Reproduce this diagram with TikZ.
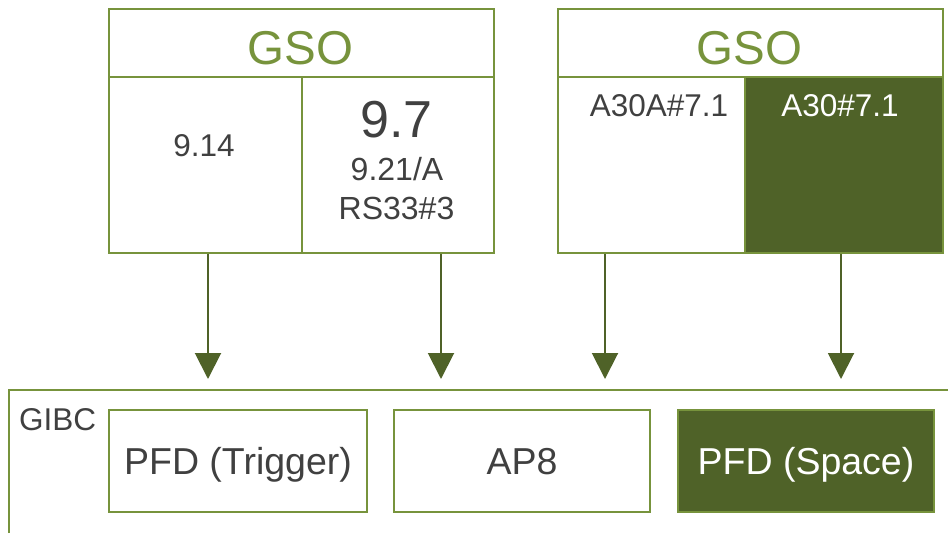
\documentclass[tikz,border=0pt]{standalone}
\usepackage{fontspec}
\setmainfont{Liberation Sans}
\usetikzlibrary{arrows.meta,calc}
\definecolor{gborder}{HTML}{77933C}
\definecolor{gdark}{HTML}{4F6228}
\definecolor{tgray}{HTML}{404040}
\tikzset{
  cell/.style={draw=gborder, line width=2pt, inner sep=0pt, anchor=north west},
  darkcell/.style={cell, fill=gdark},
  lbl/.style={inner sep=0pt, anchor=base, text=tgray},
  arr/.style={draw=gdark, line width=2pt, -{Triangle[width=26pt,length=26pt]}},
}
\begin{document}
\begin{tikzpicture}[x=1pt,y=-1pt]
\useasboundingbox (0,0) rectangle (948,533);
% left GSO
\node[cell, minimum width=385pt, minimum height=68pt] (h1) at (108,8) {};
\node[cell, minimum width=193pt, minimum height=176pt] (c1) at (108,76) {};
\node[cell, minimum width=192pt, minimum height=176pt] (c2) at (301,76) {};
\node[lbl, text=gborder, font=\fontsize{47.5}{47.5}\selectfont] (g1) at (300.5,64) {GSO};
\node[lbl, font=\fontsize{31.5}{31.5}\selectfont] (t914) at (204,156) {9.14};
\node[lbl, font=\fontsize{52}{52}\selectfont] (t97) at (396.5,137) {9.7};
\node[lbl, font=\fontsize{32}{32}\selectfont] (t921) at (397,180) {9.21/A};
\node[lbl, font=\fontsize{32}{32}\selectfont] (trs) at (396.5,219) {RS33\#3};
% right GSO
\node[cell, minimum width=385pt, minimum height=68pt] (h2) at (557,8) {};
\node[cell, minimum width=187pt, minimum height=176pt] (c3) at (557,76) {};
\node[darkcell, minimum width=198pt, minimum height=176pt] (c4) at (744,76) {};
\node[lbl, text=gborder, font=\fontsize{47.5}{47.5}\selectfont] (g2) at (749.5,64) {GSO};
\node[lbl, font=\fontsize{31.5}{31.5}\selectfont] (ta30a) at (659,116) {A30A\#7.1};
\node[lbl, text=white, font=\fontsize{31.5}{31.5}\selectfont] (ta30) at (840,116) {A30\#7.1};
% GIBC frame
\coordinate (gbl) at (9,533);
\coordinate (gtr) at (948,390);
\draw[gborder, line width=2pt] (gbl) |- (gtr);
\node[lbl, anchor=base west, font=\fontsize{31.5}{31.5}\selectfont] (gibc) at (19,430) {GIBC};
% inner boxes
\node[cell, minimum width=258pt, minimum height=102pt] (b1) at (108,409) {};
\node[cell, minimum width=256pt, minimum height=102pt] (b2) at (393,409) {};
\node[darkcell, minimum width=256pt, minimum height=102pt] (b3) at (677,409) {};
\node[lbl, font=\fontsize{37.5}{37.5}\selectfont] at ($(b1.center)+(0,13)$) {PFD (Trigger)};
\node[lbl, font=\fontsize{37.5}{37.5}\selectfont] at ($(b2.center)+(0,13)$) {AP8};
\node[lbl, text=white, font=\fontsize{37.5}{37.5}\selectfont] at ($(b3.center)+(0,13)$) {PFD (Space)};
% arrows
\coordinate (a1) at (208,379);
\coordinate (a2) at (441,379);
\coordinate (a3) at (605,379);
\coordinate (a4) at (841,379);
\draw[arr] (c1.south -| a1) -- (a1);
\draw[arr] (c2.south -| a2) -- (a2);
\draw[arr] (c3.south -| a3) -- (a3);
\draw[arr] (c4.south -| a4) -- (a4);
\end{tikzpicture}
\end{document}
